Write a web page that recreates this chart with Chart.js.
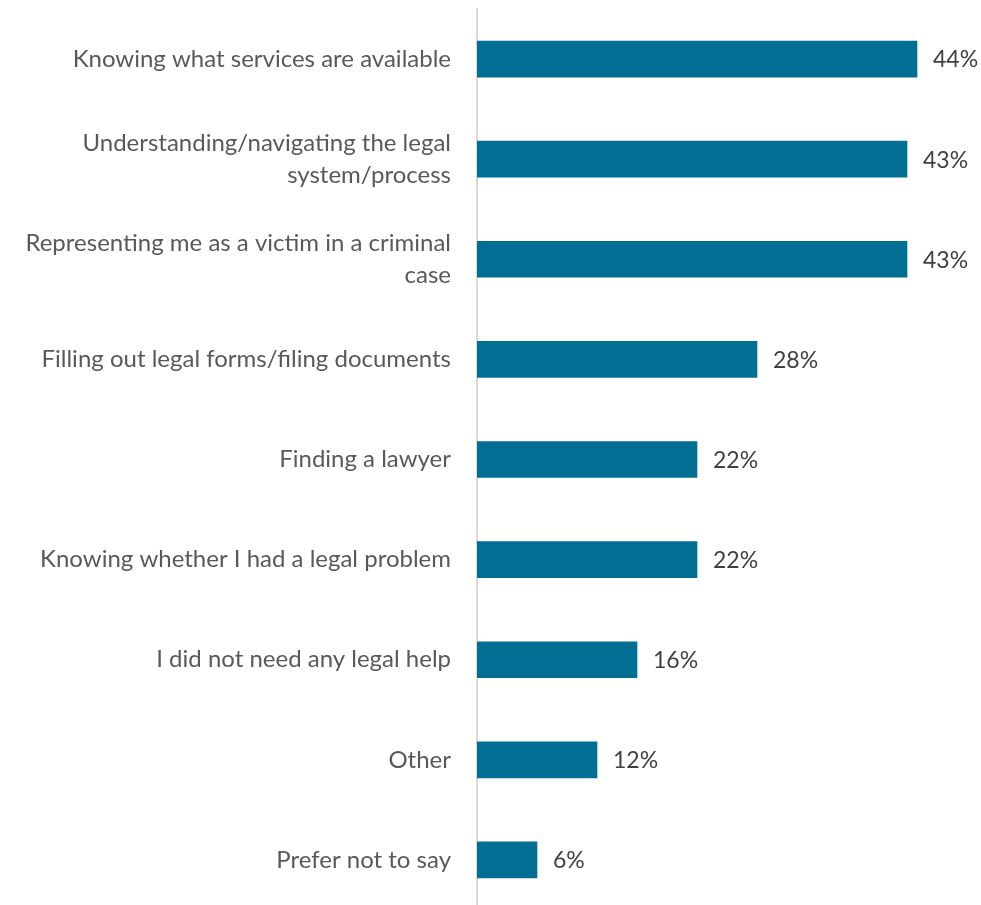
<!DOCTYPE html>
<html>
<head>
<meta charset="utf-8">
<script src="https://cdn.jsdelivr.net/npm/chart.js@4.4.1/dist/chart.umd.min.js"></script>
<style>
  html, body { margin: 0; padding: 0; background: #fff; overflow: hidden; }
  .wrap { position: relative; width: 981px; height: 910px; }
</style>
</head>
<body>
<div class="wrap"><canvas id="helpChart"></canvas></div>
<script>
// Categories and shares (%)
const categories = [
    'Knowing what services are available',
    ['Understanding/navigating the legal', 'system/process'],
    ['Representing me as a victim in a criminal', 'case'],
    'Filling out legal forms/filing documents',
    'Finding a lawyer',
    'Knowing whether I had a legal problem',
    'I did not need any legal help',
    'Other',
    'Prefer not to say'
];
const shares = [44, 43, 43, 28, 22, 22, 16, 12, 6];

const FONT = "Lato, sans-serif";

// Value labels to the right of each bar
const barLabels = {
    id: 'barLabels',
    afterDatasetsDraw(chart) {
        const ctx = chart.ctx;
        const meta = chart.getDatasetMeta(0);
        ctx.save();
        ctx.font = '23px ' + FONT;
        ctx.fillStyle = '#404040';
        ctx.textAlign = 'left';
        ctx.textBaseline = 'middle';
        meta.data.forEach((bar, i) => {
            ctx.fillText(shares[i] + '%', bar.x + 16, bar.y + 1);
        });
        ctx.restore();
    }
};

const initializeHelpChart = () => {
    const ctx = document.getElementById('helpChart').getContext('2d');
    new Chart(ctx, {
        type: 'bar',
        data: {
            labels: categories,
            datasets: [{
                data: shares,
                backgroundColor: '#036e94',
                barThickness: 36
            }]
        },
        options: {
            indexAxis: 'y',
            responsive: true,
            maintainAspectRatio: false,
            animation: false,
            layout: { padding: { top: 9, right: 4, bottom: 0, left: 0 } },
            plugins: {
                legend: { display: false },
                tooltip: { enabled: false }
            },
            scales: {
                x: {
                    display: false,
                    min: 0,
                    max: 50
                },
                y: {
                    afterFit: (scale) => {
                        scale.width = 477;
                        scale.paddingTop = 0;
                        scale.paddingBottom = 0;
                    },
                    grid: { display: false, drawTicks: false },
                    border: { display: true, color: '#d9d9d9', width: 2 },
                    ticks: {
                        color: '#595959',
                        padding: 26,
                        font: { family: FONT, size: 24, lineHeight: 1.36 }
                    }
                }
            }
        },
        plugins: [barLabels]
    });
};

document.addEventListener('DOMContentLoaded', initializeHelpChart);
</script>
</body>
</html>
